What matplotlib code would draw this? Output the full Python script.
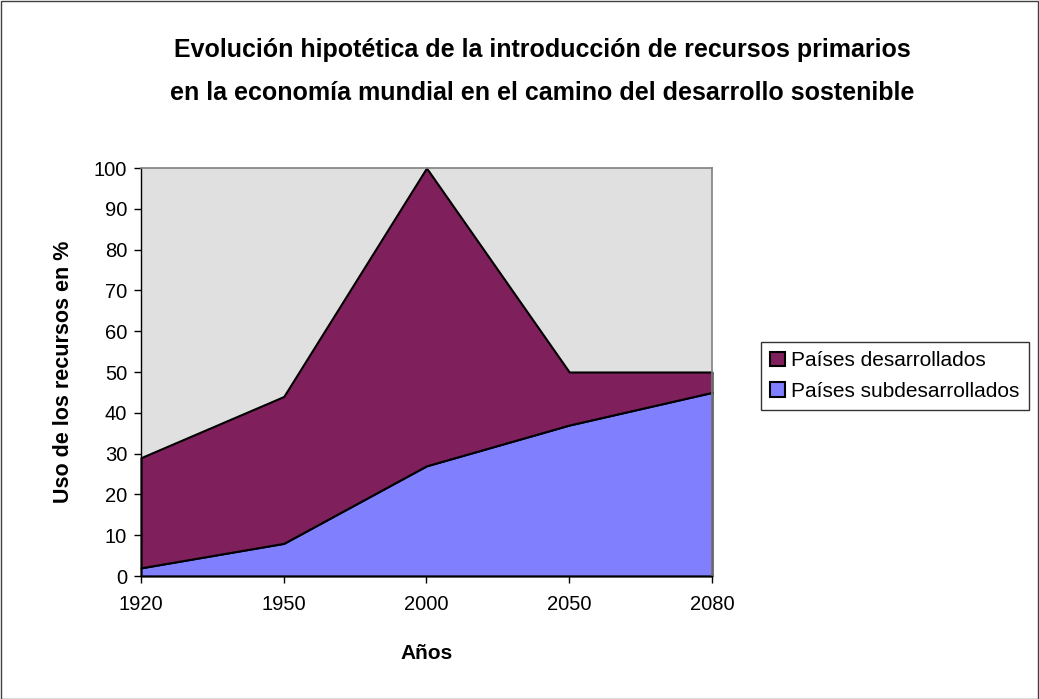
import numpy as np
import matplotlib.pyplot as plt
from matplotlib.patches import Rectangle

plt.rcParams['font.family'] = ['Liberation Sans', 'DejaVu Sans']

years = ['1920', '1950', '2000', '2050', '2080']
subdesarrollados = [2, 8, 27, 37, 45]
desarrollados = [27, 36, 73, 13, 5]

color_des = '#7F1F5C'
color_sub = '#8080FF'

fig = plt.figure(figsize=(10.39, 6.99), dpi=100)
ax = fig.add_axes([141/1039, 1-576/699, (712-141)/1039, (576-168)/699])
ax.set_facecolor('#E0E0E0')

x = np.arange(len(years))
polys = ax.stackplot(x, subdesarrollados, desarrollados,
                     colors=[color_sub, color_des],
                     edgecolor='black', linewidth=1.5,
                     labels=['Países subdesarrollados', 'Países desarrollados'])
for p in polys:
    p.set_clip_on(False)

ax.set_xlim(0, len(years)-1)
ax.set_ylim(0, 100)
ax.set_yticks(np.arange(0, 101, 10))
ax.set_xticks(x)
ax.set_xticklabels(years)
ax.tick_params(axis='both', labelsize=14.5, direction='out', length=5, width=1, color='black', pad=5)
ax.tick_params(axis='x', pad=9)

for s in ['top', 'right']:
    ax.spines[s].set_color('#808080')
    ax.spines[s].set_linewidth(1.2)
for s in ['left', 'bottom']:
    ax.spines[s].set_color('black')
    ax.spines[s].set_linewidth(1)

ax.set_xlabel('Años', fontsize=15, fontweight='bold', labelpad=21)
ax.set_ylabel('Uso de los recursos en %', fontsize=15.5, fontweight='bold', labelpad=14)

fig.text(542/1039, 1-50/699,
         'Evolución hipotética de la introducción de recursos primarios',
         ha='center', va='center', fontsize=18, fontweight='bold')
fig.text(542/1039, 1-93/699,
         'en la economía mundial en el camino del desarrollo sostenible',
         ha='center', va='center', fontsize=18, fontweight='bold')

handles, labels = ax.get_legend_handles_labels()
leg = fig.legend(handles[::-1], labels[::-1], loc='center left',
                 bbox_to_anchor=(761/1039, 1-376/699), fontsize=15,
                 frameon=True, fancybox=False, edgecolor='black',
                 handlelength=0.7, handleheight=0.7, handletextpad=0.3,
                 borderpad=0.45, labelspacing=0.55, borderaxespad=0)
leg.get_frame().set_linewidth(1)

fig.patches.append(Rectangle((0.5/1039, 0.5/699), 1-1.5/1039, 1-1.5/699,
                             transform=fig.transFigure, fill=False,
                             edgecolor='#404040', linewidth=1))

fig.savefig('out.png', dpi=100)
